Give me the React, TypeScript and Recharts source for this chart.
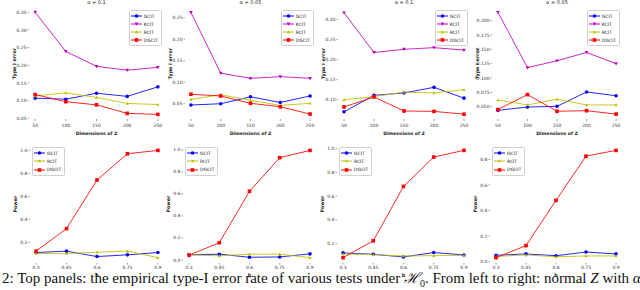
import React from "react";
import { LineChart, Line, XAxis, YAxis, ReferenceArea } from "recharts";

// x values
const dims = [50, 100, 150, 200, 250];
const bValues = [0.3, 0.45, 0.6, 0.75, 0.9];

// type-I error, top panels (left to right)
const gcitT1 = [0.107, 0.104, 0.121, 0.112, 0.139];
const kcitT1 = [0.35, 0.239, 0.197, 0.186, 0.194];
const rcitT1 = [0.113, 0.122, 0.109, 0.092, 0.089];
const dgcitT1 = [0.117, 0.097, 0.088, 0.064, 0.061];

const gcitT2 = [0.047, 0.05, 0.066, 0.053, 0.068];
const kcitT2 = [0.262, 0.121, 0.109, 0.113, 0.109];
const rcitT2 = [0.06, 0.071, 0.058, 0.046, 0.051];
const dgcitT2 = [0.072, 0.068, 0.051, 0.043, 0.026];

const gcitT3 = [0.07, 0.111, 0.117, 0.131, 0.104];
const kcitT3 = [0.317, 0.218, 0.226, 0.23, 0.224];
const rcitT3 = [0.1, 0.108, 0.119, 0.117, 0.125];
const dgcitT3 = [0.082, 0.107, 0.072, 0.071, 0.064];

const gcitT4 = [0.0436, 0.0494, 0.0506, 0.0756, 0.069];
const kcitT4 = [0.2145, 0.118, 0.13, 0.1445, 0.125];
const rcitT4 = [0.0616, 0.053, 0.063, 0.053, 0.053];
const dgcitT4 = [0.045, 0.071, 0.042, 0.043, 0.037];

// power, bottom panels (left to right)
const gcitP1 = [0.112, 0.124, 0.077, 0.092, 0.112];
const rcitP1 = [0.103, 0.103, 0.115, 0.124, 0.068];
const dgcitP1 = [0.124, 0.32, 0.743, 0.971, 1.0];

const gcitP2 = [0.046, 0.052, 0.024, 0.027, 0.055];
const rcitP2 = [0.046, 0.037, 0.052, 0.052, 0.021];
const dgcitP2 = [0.043, 0.156, 0.623, 0.928, 0.994];

const gcitP3 = [0.121, 0.109, 0.087, 0.124, 0.104];
const rcitP3 = [0.112, 0.107, 0.095, 0.098, 0.101];
const dgcitP3 = [0.081, 0.223, 0.682, 0.929, 0.986];

const gcitP4 = [0.05, 0.061, 0.047, 0.076, 0.061];
const rcitP4 = [0.042, 0.053, 0.039, 0.045, 0.045];
const dgcitP4 = [0.032, 0.126, 0.479, 0.826, 0.871];

const titles = ["α = 0.1", "α = 0.05", "α = 0.1", "α = 0.05"];

const FONT = "'DejaVu Sans', sans-serif";
const BLUE = "#0000ff";
const MAGENTA = "#bf00bf";
const YELLOW = "#bfbf00";
const RED = "#ff0000";

type Series = { key: string; name: string; color: string; marker: string; values: number[] };

function Marker({ kind, cx, cy, color }: { kind: string; cx: number; cy: number; color: string }) {
  if (kind === "circle") return <circle cx={cx} cy={cy} r={1.8} fill={color} />;
  if (kind === "square") return <rect x={cx - 1.8} y={cy - 1.8} width={3.6} height={3.6} fill={color} />;
  if (kind === "tridown")
    return <path d={`M${cx - 1.8},${cy - 1.4}L${cx + 1.8},${cy - 1.4}L${cx},${cy + 1.8}Z`} fill={color} />;
  return <path d={`M${cx - 1.6},${cy + 1.3}L${cx + 1.6},${cy + 1.3}L${cx},${cy - 1.6}Z`} fill={color} />;
}

const topSeries = (g: number[], k: number[], r: number[], d: number[]): Series[] => [
  { key: "gcit", name: "GCIT", color: BLUE, marker: "circle", values: g },
  { key: "kcit", name: "KCIT", color: MAGENTA, marker: "tridown", values: k },
  { key: "rcit", name: "RCIT", color: YELLOW, marker: "triup", values: r },
  { key: "dgcit", name: "DGCIT", color: RED, marker: "square", values: d },
];

const bottomSeries = (g: number[], r: number[], d: number[]): Series[] => [
  { key: "gcit", name: "GCIT", color: BLUE, marker: "circle", values: g },
  { key: "rcit", name: "RCIT", color: YELLOW, marker: "triup", values: r },
  { key: "dgcit", name: "DGCIT", color: RED, marker: "square", values: d },
];

type PanelProps = {
  x: number;
  y: number;
  w: number;
  h: number;
  xs: number[];
  series: Series[];
  xDomain: [number, number];
  yDomain: [number, number];
  yTicks: number[];
  yDigits: number;
  title?: string;
  xLabel: string;
  yLabel: string;
  legendRight: boolean;
  top: boolean;
};

const L = 30;
const T = 10;
const R = 2;

function Panel(p: PanelProps) {
  const B = p.top ? 16 : 14;
  const data = p.xs.map((v, i) => {
    const row: Record<string, number> = { x: v };
    p.series.forEach((s) => (row[s.key] = s.values[i]));
    return row;
  });
  const tickStyle = { fontSize: 4.5, fill: "#333", fontFamily: FONT };
  return (
    <div style={{ position: "absolute", left: p.x - L, top: p.y - T }}>
      <LineChart width={p.w + L + R} height={p.h + T + B} data={data} margin={{ top: T, right: R, bottom: 0, left: 0 }}>
        <ReferenceArea fill="none" stroke="#8c8c8c" strokeWidth={1} />
        <XAxis
          dataKey="x"
          type="number"
          domain={p.xDomain}
          ticks={p.xs}
          allowDataOverflow
          height={B}
          axisLine={false}
          tickSize={p.top ? 2 : 1.5}
          tickMargin={p.top ? 3 : 1.5}
          tickLine={{ stroke: "#555", strokeWidth: 0.6 }}
          tick={tickStyle}
          tickFormatter={(v: number) => String(v)}
          label={{
            value: p.xLabel,
            position: "insideBottom",
            offset: 0,
            style: { fontSize: p.top ? 4.6 : 5, fontWeight: "bold", fill: "#222", fontFamily: FONT },
          }}
        />
        <YAxis
          type="number"
          domain={p.yDomain}
          ticks={p.yTicks}
          allowDataOverflow
          width={L}
          axisLine={false}
          tickSize={1.5}
          tickMargin={1}
          tickLine={{ stroke: "#555", strokeWidth: 0.6 }}
          tick={tickStyle}
          tickFormatter={(v: number) => v.toFixed(p.yDigits)}
          label={{
            content: (lp: any) => {
              const vb = lp.viewBox || { x: 0, y: 0, width: L, height: p.h };
              const cx = vb.x + vb.width - 15;
              const cy = vb.y + vb.height / 2;
              return (
                <text
                  x={cx}
                  y={cy}
                  transform={`rotate(-90, ${cx}, ${cy})`}
                  textAnchor="middle"
                  dominantBaseline="central"
                  fontSize={4.8}
                  fontWeight="bold"
                  fill="#222"
                  fontFamily={FONT}
                >
                  {p.yLabel}
                </text>
              );
            },
          }}
        />
        {p.series.map((s) => (
          <Line
            key={s.key}
            dataKey={s.key}
            name={s.name}
            stroke={s.color}
            strokeOpacity={0.85}
            strokeWidth={1}
            isAnimationActive={false}
            dot={(dp: any) => <Marker key={`${s.key}-${dp.index}`} kind={s.marker} cx={dp.cx} cy={dp.cy} color={s.color} />}
            activeDot={false}
          />
        ))}
      </LineChart>
      {p.title && (
        <div
          style={{
            position: "absolute",
            left: L,
            width: p.w,
            top: T - 9,
            textAlign: "center",
            fontSize: 5,
            fontFamily: FONT,
            color: "#222",
            lineHeight: "6px",
          }}
        >
          {p.title}
        </div>
      )}
      <div
        style={{
          position: "absolute",
          top: T + 2,
          left: p.legendRight ? undefined : L + 2,
          right: p.legendRight ? R + 2 : undefined,
          ...(p.legendRight ? {} : {}),
          background: "rgba(255,255,255,0.85)",
          border: "0.5px solid #d0d0d0",
          borderRadius: 1.5,
          padding: "1px 3px 1px 1px",
          fontFamily: FONT,
          fontSize: 4.5,
          color: "#222",
        }}
      >
        {p.series.map((s) => (
          <div key={s.key} style={{ display: "flex", alignItems: "center", height: p.top ? 8 : 8.3 }}>
            <svg width={11} height={6} style={{ marginRight: 2 }}>
              <line x1={0} y1={3} x2={11} y2={3} stroke={s.color} strokeWidth={1} />
              <Marker kind={s.marker} cx={5.5} cy={3} color={s.color} />
            </svg>
            <span>{s.name}</span>
          </div>
        ))}
      </div>
    </div>
  );
}

const panels: PanelProps[] = [
  { x: 29, y: 8, w: 135, h: 111, xs: dims, series: topSeries(gcitT1, kcitT1, rcitT1, dgcitT1), xDomain: [40, 260], yDomain: [0.048, 0.362], yTicks: [0.05, 0.1, 0.15, 0.2, 0.25, 0.3, 0.35], yDigits: 2, title: titles[0], xLabel: "Dimensions of Z", yLabel: "Type I error", legendRight: true, top: true },
  { x: 185, y: 8, w: 131, h: 111, xs: dims, series: topSeries(gcitT2, kcitT2, rcitT2, dgcitT2), xDomain: [40, 260], yDomain: [0.0145, 0.2725], yTicks: [0.05, 0.1, 0.15, 0.2, 0.25], yDigits: 2, title: titles[1], xLabel: "Dimensions of Z", yLabel: "Type I error", legendRight: true, top: true },
  { x: 338, y: 8, w: 132, h: 111, xs: dims, series: topSeries(gcitT3, kcitT3, rcitT3, dgcitT3), xDomain: [40, 260], yDomain: [0.052, 0.329], yTicks: [0.1, 0.15, 0.2, 0.25, 0.3], yDigits: 2, title: titles[2], xLabel: "Dimensions of Z", yLabel: "Type I error", legendRight: true, top: true },
  { x: 492, y: 8, w: 130, h: 111, xs: dims, series: topSeries(gcitT4, kcitT4, rcitT4, dgcitT4), xDomain: [40, 260], yDomain: [0.0285, 0.222], yTicks: [0.05, 0.075, 0.1, 0.125, 0.15, 0.175, 0.2], yDigits: 3, title: titles[3], xLabel: "Dimensions of Z", yLabel: "Type I error", legendRight: true, top: true },
  { x: 30, y: 145, w: 134, h: 118, xs: bValues, series: bottomSeries(gcitP1, rcitP1, dgcitP1), xDomain: [0.27, 0.93], yDomain: [0.021, 1.047], yTicks: [0.2, 0.4, 0.6, 0.8, 1.0], yDigits: 1, xLabel: "b", yLabel: "Power", legendRight: false, top: false },
  { x: 183, y: 145, w: 133, h: 118, xs: bValues, series: bottomSeries(gcitP2, rcitP2, dgcitP2), xDomain: [0.27, 0.93], yDomain: [-0.028, 1.043], yTicks: [0, 0.2, 0.4, 0.6, 0.8, 1.0], yDigits: 1, xLabel: "b", yLabel: "Power", legendRight: false, top: false },
  { x: 337, y: 145, w: 133, h: 118, xs: bValues, series: bottomSeries(gcitP3, rcitP3, dgcitP3), xDomain: [0.27, 0.93], yDomain: [0.036, 1.031], yTicks: [0.2, 0.4, 0.6, 0.8, 1.0], yDigits: 1, xLabel: "b", yLabel: "Power", legendRight: false, top: false },
  { x: 490, y: 145, w: 132, h: 118, xs: bValues, series: bottomSeries(gcitP4, rcitP4, dgcitP4), xDomain: [0.27, 0.93], yDomain: [-0.01, 0.913], yTicks: [0, 0.2, 0.4, 0.6, 0.8], yDigits: 1, xLabel: "b", yLabel: "Power", legendRight: false, top: false },
];

export default function App() {
  return (
    <div style={{ position: "absolute", left: 0, top: 0, width: 640, height: 290, overflow: "hidden", background: "#fff" }}>
      {panels.map((p, i) => (
        <Panel key={i} {...p} />
      ))}
      <div
        style={{
          position: "absolute",
          left: 2,
          top: 271,
          whiteSpace: "nowrap",
          fontFamily: "'Liberation Serif', serif",
          fontSize: 15,
          lineHeight: "15px",
          color: "#111",
        }}
      >
        2: Top panels: the empirical type-I error rate of various tests under <i>ℋ</i>
        <sub style={{ fontSize: 10, lineHeight: 0 }}>0</sub>. From left to right: normal <i>Z</i> with <i>α</i>
      </div>
    </div>
  );
}
